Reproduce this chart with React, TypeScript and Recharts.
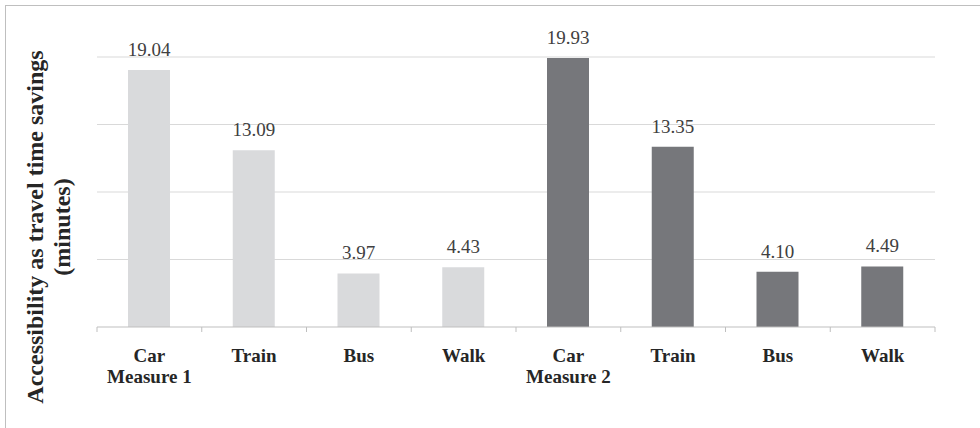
import React from "react";
import { BarChart, Bar, XAxis, YAxis, CartesianGrid, Cell, LabelList } from "recharts";

const modes = ["Car", "Train", "Bus", "Walk", "Car", "Train", "Bus", "Walk"];
const groups = ["Measure 1", "", "", "", "Measure 2", "", "", ""];
const minutes = [19.04, 13.09, 3.97, 4.43, 19.93, 13.35, 4.1, 4.49];
const measureIndex = [1, 1, 1, 1, 2, 2, 2, 2];

const COLORS: Record<number, string> = { 1: "#d9dadc", 2: "#76777b" };
const FONT = "Liberation Serif";

const data = modes.map((m, i) => ({
  key: `${m}-${i}`,
  mode: m,
  group: groups[i],
  value: minutes[i],
  measure: measureIndex[i],
}));

const PLOT_LEFT = 97;
const PLOT_RIGHT = 935;
const BAND = (PLOT_RIGHT - PLOT_LEFT) / data.length;

function ModeTick(props: any) {
  const { x, y, payload, index } = props;
  const i = payload.index ?? index;
  const d = data[i];
  const left = x - BAND / 2;
  const isLast = i === data.length - 1;
  return (
    <g>
      <line x1={left} x2={left} y1={y - 8} y2={y - 3} stroke="#bfbfbf" />
      {isLast && <line x1={left + BAND} x2={left + BAND} y1={y - 8} y2={y - 3} stroke="#bfbfbf" />}
      <text x={x} y={y + 27} textAnchor="middle" fontFamily={FONT} fontWeight="bold" fontSize={19} fill="#262626">
        {d.mode}
      </text>
      {d.group && (
        <text x={x} y={y + 48} textAnchor="middle" fontFamily={FONT} fontWeight="bold" fontSize={19} fill="#262626">
          {d.group}
        </text>
      )}
    </g>
  );
}

export default function App() {
  return (
    <div style={{ position: "absolute", left: 0, top: 0, width: 980, height: 428, background: "#fff" }}>
      <div
        style={{
          position: "absolute",
          left: 5,
          top: 5,
          right: 0,
          bottom: 0,
          borderTop: "1px solid #bfbfbf",
          borderLeft: "1px solid #bfbfbf",
        }}
      />
      <BarChart
        width={980}
        height={428}
        data={data}
        margin={{ top: 57, right: 980 - PLOT_RIGHT, left: PLOT_LEFT, bottom: 41 }}
        style={{ position: "absolute", left: 0, top: 0 }}
      >
        <CartesianGrid vertical={false} stroke="#d9d9d9" horizontalValues={[5, 10, 15, 20]} />
        <YAxis hide domain={[0, 20]} ticks={[0, 5, 10, 15, 20]} />
        <XAxis
          dataKey="key"
          height={60}
          stroke="#bfbfbf"
          tickLine={false}
          interval={0}
          tick={<ModeTick />}
        />
        <Bar dataKey="value" isAnimationActive={false} barSize={42}>
          {data.map((d) => (
            <Cell key={d.key} fill={COLORS[d.measure]} />
          ))}
          <LabelList
            dataKey="value"
            position="top"
            offset={14}
            formatter={(v: any) => Number(v).toFixed(2)}
            fontFamily={FONT}
            fontSize={19}
            fill="#404040"
          />
        </Bar>
      </BarChart>
      <svg width={90} height={428} style={{ position: "absolute", left: 0, top: 0 }}>
        <g fontFamily={FONT} fontWeight="bold" fontSize={24} fill="#262626" textAnchor="middle">
          <text transform="translate(43,227) rotate(-90)">Accessibility as travel time savings</text>
          <text transform="translate(70,227) rotate(-90)">(minutes)</text>
        </g>
      </svg>
    </div>
  );
}
